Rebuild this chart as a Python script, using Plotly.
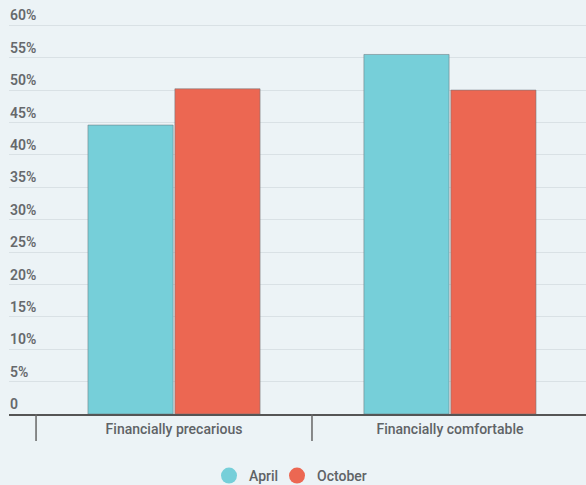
import plotly.graph_objects as go

categories = ["Financially precarious", "Financially comfortable"]
april = [44.6, 55.5]
october = [50.2, 50.0]
ytick_vals = [0, 5, 10, 15, 20, 25, 30, 35, 40, 45, 50, 55, 60]
ytick_text = ["0"] + [f"{v}%" for v in ytick_vals[1:]]

BG = "#ECF3F6"
TEAL = "#76CFD9"
RED = "#EC6752"
TXT = "#5f6366"

fig = go.Figure()
fig.add_bar(x=categories, y=april, name="April", marker_color=TEAL,
            marker_line=dict(color="rgba(110,120,125,0.55)", width=1), showlegend=False)
fig.add_bar(x=categories, y=october, name="October", marker_color=RED,
            marker_line=dict(color="rgba(110,120,125,0.55)", width=1), showlegend=False)
for name, col, lg in [("April", TEAL, "legend"), ("October", RED, "legend2")]:
    fig.add_scatter(x=[None], y=[None], mode="markers", name=name, legend=lg,
                    marker=dict(symbol="circle", size=17, color=col))

# category divider ticks at the boundaries between categories
for b in [i - 0.5 for i in range(len(categories))]:
    fig.add_shape(type="line", xref="x", yref="paper", x0=b, x1=b, y0=0, y1=-0.066,
                  line=dict(color="#666666", width=1.5), layer="above")

leg_common = dict(orientation="h", xref="container", yref="container",
                  xanchor="left", y=9 / 485, yanchor="middle",
                  font=dict(size=14, color=TXT, weight=500), bgcolor="rgba(0,0,0,0)")

fig.update_layout(
    width=586, height=485,
    margin=dict(l=9, r=0, t=6, b=71),
    paper_bgcolor=BG, plot_bgcolor=BG,
    barmode="group", bargap=0.37, bargroupgap=0.02,
    font=dict(family="Roboto", size=14, color=TXT, weight=500),
    legend=dict(x=(229 - 20) / 586, **leg_common),
    legend2=dict(x=(297 - 20) / 586, **leg_common),
)
fig.update_yaxes(range=[0, 62.98], tickvals=ytick_vals, ticktext=ytick_text,
                 ticklabelposition="inside top", ticklabelstandoff=-2,
                 showgrid=True, gridcolor="#D9E1E5",
                 gridwidth=1, zeroline=False, showline=False, ticks="",
                 tickfont=dict(size=14, color="#66696c", weight=600))
fig.update_xaxes(range=[-0.598, 1.493], showline=True, linecolor="#555555", linewidth=2,
                 ticks="", ticklabelstandoff=1,
                 tickfont=dict(size=14, color=TXT, weight=500), showgrid=False)

fig.write_html("out.html")
